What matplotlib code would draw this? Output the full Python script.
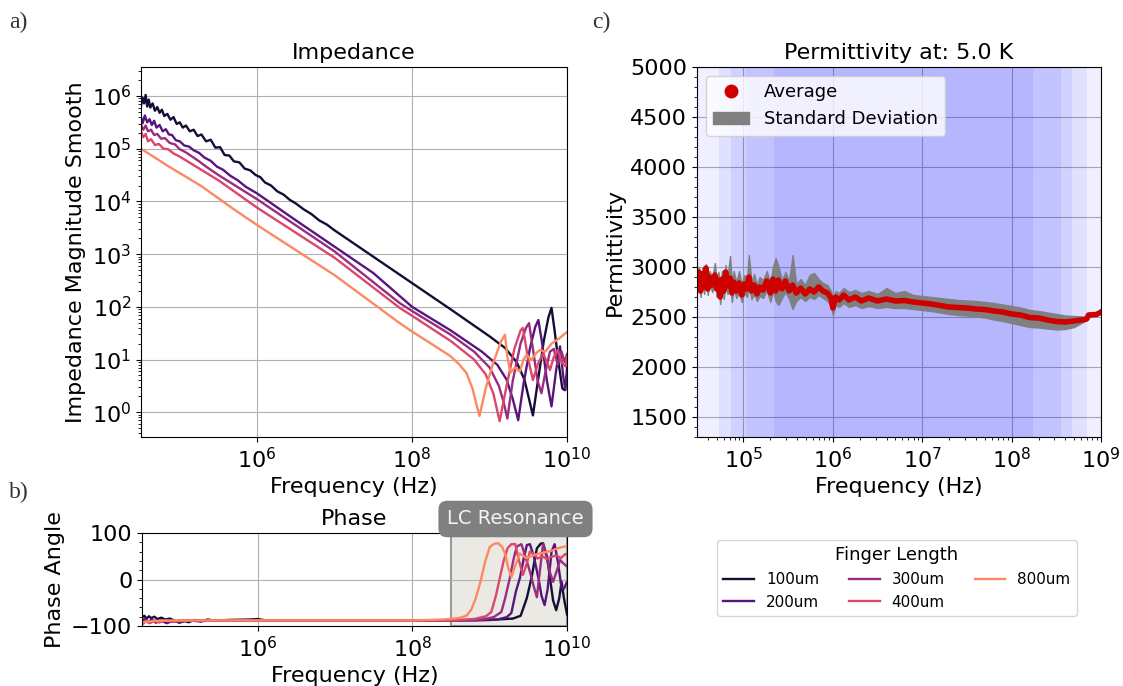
import numpy as np
import matplotlib.pyplot as plt
from matplotlib.lines import Line2D
from matplotlib.patches import Patch
from matplotlib.ticker import NullLocator

plt.rcParams['font.size'] = 16
plt.rcParams['axes.titlesize'] = 16

# ------ data (log10 frequency, log10 |Z|) ------ #
finger_labels = ['100um', '200um', '300um', '400um', '800um']

imp_100 = [(4.50, 5.82), (4.52, 5.97), (4.54, 5.86), (4.56, 6.02), (4.58, 5.80), (4.60, 5.93),
           (4.62, 5.78), (4.65, 5.86), (4.68, 5.72), (4.71, 5.79), (4.74, 5.68), (4.77, 5.74),
           (4.80, 5.62), (4.84, 5.66), (4.88, 5.55), (4.92, 5.60), (4.96, 5.47), (5.00, 5.50),
           (5.04, 5.40), (5.08, 5.44), (5.13, 5.33), (5.18, 5.36), (5.23, 5.24), (5.28, 5.27),
           (5.34, 5.14), (5.40, 5.17), (5.46, 5.02), (5.52, 5.03), (5.58, 4.88), (5.64, 4.87),
           (5.70, 4.76), (5.77, 4.74), (5.84, 4.62), (5.91, 4.59), (5.98, 4.50), (6.04, 4.46),
           (6.10, 4.36), (6.18, 4.30), (6.26, 4.19), (6.34, 4.13), (6.42, 4.03), (6.50, 3.96),
           (6.60, 3.85), (6.70, 3.76), (6.80, 3.64), (6.90, 3.56), (7.00, 3.45), (7.20, 3.25),
           (7.50, 2.95), (8.00, 2.45), (8.50, 1.95), (9.00, 1.44), (9.20, 1.22), (9.35, 0.95),
           (9.45, 0.62), (9.51, 0.25), (9.56, -0.06), (9.62, 0.55), (9.70, 1.35), (9.76, 1.80),
           (9.80, 1.98), (9.84, 1.55), (9.89, 0.95), (9.94, 0.45), (9.97, 0.42), (10.0, 0.70)]

imp_200 = [(4.50, 5.60), (4.52, 5.48), (4.55, 5.63), (4.58, 5.50), (4.61, 5.56), (4.64, 5.45),
           (4.67, 5.53), (4.70, 5.40), (4.74, 5.45), (4.78, 5.33), (4.82, 5.37), (4.86, 5.27),
           (4.90, 5.26), (4.95, 5.16), (5.00, 5.14), (5.06, 5.06), (5.12, 5.04), (5.18, 4.97),
           (5.25, 4.92), (5.32, 4.83), (5.40, 4.77), (5.48, 4.66), (5.56, 4.60), (5.65, 4.49),
           (5.75, 4.40), (5.85, 4.28), (6.00, 4.15), (6.50, 3.64), (7.00, 3.14), (7.50, 2.64),
           (8.00, 2.00), (8.50, 1.55), (8.90, 1.15), (9.10, 0.90), (9.22, 0.62), (9.30, 0.25),
           (9.37, -0.15), (9.44, 0.55), (9.52, 1.20), (9.59, 1.62), (9.63, 1.75), (9.68, 1.30),
           (9.74, 0.60), (9.80, 0.11), (9.86, 0.80), (9.91, 1.25), (9.95, 0.70), (9.98, 0.42),
           (10.0, 0.85)]

imp_300 = [(4.50, 5.45), (4.53, 5.36), (4.56, 5.44), (4.59, 5.33), (4.63, 5.36), (4.67, 5.26),
           (4.71, 5.28), (4.76, 5.19), (4.81, 5.20), (4.87, 5.11), (4.94, 5.08), (5.00, 4.99),
           (5.08, 4.93), (5.16, 4.85), (5.25, 4.76), (5.35, 4.65), (5.50, 4.50), (6.00, 4.04),
           (7.00, 3.05), (7.84, 2.07), (8.00, 1.92), (8.50, 1.47), (8.80, 1.15), (9.00, 0.85),
           (9.12, 0.50), (9.18, 0.20), (9.23, -0.12), (9.30, 0.60), (9.40, 1.30), (9.47, 1.60),
           (9.51, 1.69), (9.56, 1.20), (9.62, 0.60), (9.67, 0.36), (9.72, 0.75), (9.78, 1.15),
           (9.83, 1.20), (9.88, 0.90), (9.93, 1.15), (9.97, 0.95), (10.0, 1.10)]

imp_400 = [(4.50, 5.32), (4.53, 5.22), (4.56, 5.28), (4.59, 5.14), (4.63, 5.18), (4.68, 5.07),
           (4.73, 5.09), (4.79, 5.00), (4.85, 4.99), (4.92, 4.91), (5.00, 4.85), (5.10, 4.76),
           (5.20, 4.67), (5.30, 4.58), (5.50, 4.40), (6.00, 3.88), (7.00, 2.93), (7.84, 1.98),
           (8.00, 1.83), (8.50, 1.35), (8.80, 1.00), (8.95, 0.72), (9.05, 0.35), (9.13, -0.17),
           (9.22, 0.50), (9.32, 1.20), (9.40, 1.55), (9.43, 1.60), (9.50, 1.00), (9.56, 0.61),
           (9.62, 0.90), (9.69, 1.12), (9.74, 0.95), (9.78, 0.80), (9.83, 1.05), (9.88, 1.18),
           (9.93, 0.95), (9.98, 0.87), (10.0, 1.05)]

imp_800 = [(4.50, 5.00), (4.85, 4.67), (5.28, 4.29), (5.67, 3.88), (6.00, 3.55), (7.00, 2.60),
           (7.84, 1.69), (8.00, 1.53), (8.30, 1.25), (8.49, 1.07), (8.60, 0.92), (8.70, 0.75),
           (8.78, 0.45), (8.83, 0.15), (8.87, -0.07), (8.95, 0.45), (9.05, 0.95), (9.15, 1.35),
           (9.20, 1.47), (9.23, 1.05), (9.27, 0.75), (9.33, 0.85), (9.39, 0.77), (9.44, 1.00),
           (9.48, 1.09), (9.54, 0.99), (9.60, 1.12), (9.65, 1.18), (9.72, 1.15), (9.80, 1.30),
           (9.90, 1.40), (9.98, 1.50), (10.0, 1.52)]

# phase angle (log10 frequency, degrees)
ph_100 = [(4.50, -82), (4.53, -78), (4.56, -84), (4.59, -79), (4.62, -83), (4.66, -80), (4.70, -85),
          (4.75, -82), (4.80, -86), (4.86, -84), (4.92, -88), (4.98, -93), (5.04, -88), (5.10, -92),
          (5.18, -87), (5.26, -90), (5.35, -86), (5.45, -89), (5.60, -87), (5.90, -86), (6.00, -85),
          (6.10, -88), (7.00, -88), (8.00, -88), (9.00, -87), (9.30, -84), (9.40, -78), (9.48, -40),
          (9.54, 3), (9.61, 67), (9.66, 77), (9.69, 78), (9.74, 50), (9.78, 3), (9.82, -45),
          (9.86, -66), (9.90, -40), (9.93, -5), (9.96, -40), (10.0, -75)]

ph_200 = [(4.50, -90), (4.54, -84), (4.58, -92), (4.62, -86), (4.68, -93), (4.74, -88), (4.82, -94),
          (4.90, -89), (5.00, -92), (5.10, -88), (5.25, -90), (5.40, -88), (5.60, -88), (8.80, -88),
          (9.10, -86), (9.22, -81), (9.28, -72), (9.34, -25), (9.39, 3), (9.44, 45), (9.48, 74),
          (9.52, 76), (9.57, 50), (9.63, 3), (9.67, -35), (9.71, -55), (9.75, -20), (9.80, 60),
          (9.84, 76), (9.88, 40), (9.93, -19), (9.96, -20), (10.0, -5)]

ph_300 = [(4.50, -95), (4.55, -88), (4.60, -93), (4.66, -88), (4.72, -92), (4.80, -88), (4.90, -91),
          (5.00, -88), (5.20, -89), (5.50, -88), (8.60, -88), (8.90, -86), (9.05, -81), (9.15, -70),
          (9.20, -40), (9.26, 3), (9.31, 45), (9.35, 71), (9.41, 76), (9.46, 50), (9.52, 17),
          (9.57, -15), (9.61, -38), (9.65, 20), (9.69, 76), (9.74, 45), (9.78, 15), (9.82, -5),
          (9.87, 20), (9.91, 42), (9.95, 35), (10.0, 28)]

ph_400 = [(4.50, -97), (4.55, -90), (4.60, -94), (4.66, -89), (4.73, -92), (4.80, -88), (4.90, -90),
          (5.10, -88), (5.50, -88), (8.50, -88), (8.80, -85), (8.95, -79), (9.02, -70), (9.08, -35),
          (9.13, 3), (9.18, 40), (9.23, 67), (9.28, 76), (9.33, 76), (9.38, 40), (9.43, 10),
          (9.48, 35), (9.52, 60), (9.57, 55), (9.62, 45), (9.68, 50), (9.73, 45), (9.79, 48),
          (9.86, 52), (9.92, 46), (9.98, 55), (10.0, 52)]

ph_800 = [(4.50, -92), (4.60, -90), (4.70, -89), (4.90, -88), (5.20, -88), (8.00, -88), (8.40, -86),
          (8.60, -83), (8.70, -78), (8.76, -65), (8.82, -40), (8.88, -5), (8.94, 38), (9.00, 70),
          (9.06, 77), (9.11, 78), (9.16, 70), (9.20, 55), (9.24, 25), (9.28, 5), (9.33, 30),
          (9.39, 56), (9.44, 50), (9.47, 46), (9.53, 50), (9.60, 54), (9.70, 58), (9.80, 62),
          (9.90, 68), (10.0, 72)]

# permittivity at 5 K: log10 frequency, average, lower / upper std band
perm = [(4.48, 2840, 2760, 2920), (4.50, 2950, 2860, 3000), (4.52, 2760, 2700, 2830),
        (4.54, 2930, 2850, 2990), (4.56, 2800, 2730, 2870), (4.58, 2990, 2900, 3030),
        (4.60, 2780, 2720, 2850), (4.62, 2900, 2830, 2960), (4.65, 2820, 2750, 2890),
        (4.68, 2920, 2850, 3040), (4.70, 2780, 2700, 2860), (4.72, 2870, 2780, 2950),
        (4.74, 2700, 2630, 2800), (4.76, 2880, 2800, 2960), (4.78, 2760, 2680, 2850),
        (4.80, 2950, 2860, 3020), (4.82, 2810, 2730, 2890), (4.85, 2890, 2800, 3110),
        (4.87, 2740, 2650, 2850), (4.89, 2850, 2780, 2960), (4.92, 2760, 2690, 2850),
        (4.95, 2840, 2750, 2960), (4.98, 2720, 2650, 2830), (5.01, 2830, 2740, 2920),
        (5.04, 2780, 2700, 2880), (5.06, 2900, 2800, 3120), (5.09, 2760, 2680, 2850),
        (5.12, 2820, 2730, 2930), (5.15, 2730, 2660, 2820), (5.18, 2800, 2710, 2900),
        (5.22, 2770, 2690, 2870), (5.26, 2860, 2770, 2960), (5.30, 2740, 2650, 2840),
        (5.33, 2880, 2760, 3000), (5.36, 2760, 2660, 3090), (5.39, 2870, 2620, 3010),
        (5.43, 2780, 2690, 2870), (5.47, 2860, 2750, 2950), (5.51, 2760, 2680, 2860),
        (5.55, 2820, 2580, 3120), (5.59, 2740, 2660, 2830), (5.64, 2790, 2700, 2880),
        (5.69, 2730, 2660, 2820), (5.74, 2780, 2700, 2920), (5.79, 2750, 2680, 2940),
        (5.84, 2800, 2720, 2880), (5.89, 2760, 2690, 2840), (5.94, 2740, 2660, 2820),
        (5.98, 2690, 2600, 2760), (6.00, 2590, 2520, 2660), (6.03, 2700, 2620, 2760),
        (6.07, 2670, 2600, 2740), (6.12, 2720, 2640, 2790), (6.18, 2670, 2600, 2750),
        (6.25, 2700, 2620, 2770), (6.32, 2660, 2590, 2740), (6.40, 2690, 2610, 2760),
        (6.50, 2660, 2590, 2730), (6.60, 2680, 2600, 2790), (6.70, 2660, 2590, 2740),
        (6.80, 2665, 2590, 2760), (6.90, 2650, 2580, 2720), (7.00, 2640, 2570, 2710),
        (7.10, 2630, 2560, 2700), (7.20, 2615, 2545, 2690), (7.30, 2600, 2530, 2680),
        (7.40, 2595, 2520, 2670), (7.50, 2590, 2515, 2665), (7.60, 2580, 2505, 2660),
        (7.70, 2575, 2495, 2650), (7.80, 2560, 2475, 2640), (7.90, 2550, 2460, 2625),
        (8.00, 2530, 2440, 2610), (8.10, 2520, 2420, 2595), (8.20, 2495, 2400, 2570),
        (8.30, 2490, 2395, 2560), (8.40, 2470, 2385, 2545), (8.50, 2455, 2375, 2530),
        (8.60, 2450, 2380, 2515), (8.70, 2460, 2400, 2510), (8.78, 2470, 2440, 2505),
        (8.84, 2480, 2470, 2495), (8.86, 2520, 2515, 2525), (8.95, 2525, 2520, 2530),
        (9.00, 2550, 2545, 2555)]

# frequency windows shaded behind the permittivity
span_start = [2.5e4, 5.35e4, 7.3e4, 1.07e5, 2.2e5]
span_end = [1.1e9, 6.9e8, 4.7e8, 3.55e8, 1.73e8]

imp_data = [imp_100, imp_200, imp_300, imp_400, imp_800]
ph_data = [ph_100, ph_200, ph_300, ph_400, ph_800]
colors = [plt.cm.magma(v) for v in (0.1, 0.27, 0.43, 0.59, 0.75)]

W, H = 1123, 686
fig = plt.figure(figsize=(W / 100, H / 100), dpi=100)

def add_ax(l, t, r, b):
    return fig.add_axes([l / W, 1 - b / H, (r - l) / W, (b - t) / H])

# ---- a) impedance ----
ax1 = add_ax(141, 67, 567, 437)
for d, c, lab in zip(imp_data, colors, finger_labels):
    d = np.array(d)
    ax1.loglog(10 ** d[:, 0], 10 ** d[:, 1], color=c, lw=1.7, label=lab)
ax1.set_xlim(10 ** 4.5, 1e10)
ax1.set_ylim(10 ** -0.47, 10 ** 6.55)
ax1.set_xticks([1e6, 1e8, 1e10])
ax1.xaxis.set_minor_locator(NullLocator())
ax1.grid(True)
ax1.set_title('Impedance')
ax1.set_xlabel('Frequency (Hz)')
ax1.set_ylabel('Impedance Magnitude Smooth')

# ---- b) phase ----
ax2 = add_ax(142, 533, 567, 626)
ax2.axvspan(10 ** 8.5, 1e10, facecolor='#ebe9e4', edgecolor='#9a9a9a', lw=1.5)
for d, c in zip(ph_data, colors):
    d = np.array(d)
    ax2.semilogx(10 ** d[:, 0], d[:, 1], color=c, lw=1.7)
ax2.set_xlim(10 ** 4.5, 1e10)
ax2.set_ylim(-100, 100)
ax2.minorticks_on()
ax2.set_yticks([-100, 0, 100])
ax2.set_xticks([1e6, 1e8, 1e10])
ax2.xaxis.set_minor_locator(NullLocator())
ax2.grid(True)
ax2.set_title('Phase')
ax2.set_xlabel('Frequency (Hz)')
ax2.set_ylabel('Phase Angle')
fig.text(515.5 / W, 1 - 519 / H, 'LC Resonance', fontsize=14, color='#f4f4f4',
         ha='center', va='center',
         bbox=dict(boxstyle='round,pad=0.45', facecolor='gray', edgecolor='none'))

# ---- c) permittivity ----
ax3 = add_ax(697, 67, 1101, 437)
ax3.set_axisbelow(True)
for s, e in zip(span_start, span_end):
    ax3.axvspan(s, e, color='blue', alpha=0.064, lw=0)
p = np.array(perm)
pf = 10 ** p[:, 0]
ax3.fill_between(pf, p[:, 2], p[:, 3], color='gray')
ax3.semilogx(pf, p[:, 1], color='#cf0000', lw=4)
ax3.set_xlim(10 ** 4.48, 1e9)
ax3.set_ylim(1300, 5000)
ax3.set_yticks(np.arange(1500, 5001, 500))
ax3.minorticks_on()
ax3.grid(True)
ax3.set_title('Permittivity at: 5.0 K')
ax3.set_xlabel('Frequency (Hz)')
ax3.set_ylabel('Permittivity')
ax3.legend(handles=[Line2D([], [], ls='', marker='o', ms=9, color='#cf0000'),
                    Patch(color='gray')],
           labels=['Average', 'Standard Deviation'], loc='upper left', fontsize=13)

# finger length legend below the permittivity panel
h, l = ax1.get_legend_handles_labels()
fig.legend(h, l, ncol=3, title='Finger Length', fontsize=10.9, title_fontsize=13,
           loc='center', bbox_to_anchor=(897 / W, 1 - 578 / H))

# panel letters
for x, y, s in [(9, 22, 'a)'), (9, 492, 'b)'), (592, 22, 'c)')]:
    fig.text(x / W, 1 - y / H, s, fontsize=17, family='Liberation Serif',
             color='#333333', va='center')

fig.savefig('out.png', dpi=100)
